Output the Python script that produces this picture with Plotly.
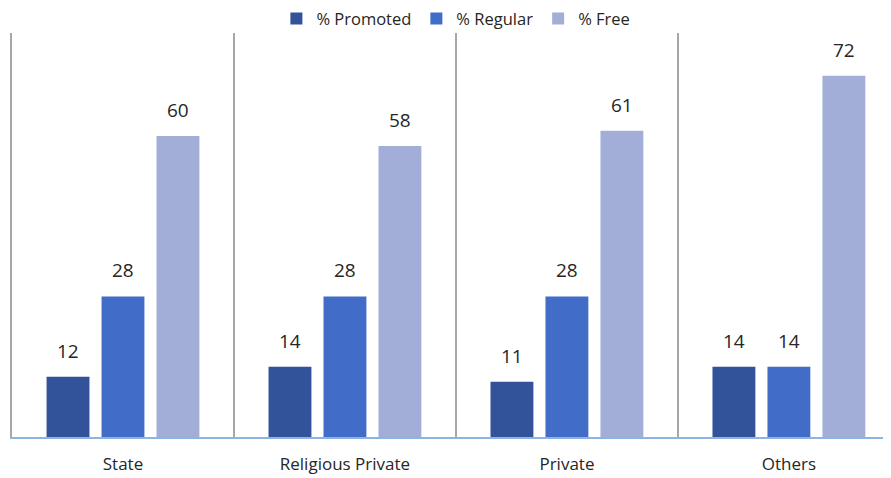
import plotly.graph_objects as go

categories = ["State", "Religious Private", "Private", "Others"]
series_names = ["% Promoted", "% Regular", "% Free"]
promoted = [12, 14, 11, 14]
regular = [28, 28, 28, 14]
free = [60, 58, 61, 72]

values = [promoted, regular, free]
colors = ["#32529A", "#416CC8", "#A3AED8"]
font_family = "'Open Sans', Lato, sans-serif"

fig = go.Figure()
for name, vals, col in zip(series_names, values, colors):
    fig.add_trace(go.Bar(
        x=categories, y=vals, name=name,
        marker=dict(color=col, line=dict(width=0)),
    ))

# data labels above bars
bargap = 0.257
slot_px = 222 * (1 - bargap) / 3
for i, vals in enumerate(values):
    for c, v in zip(categories, vals):
        fig.add_annotation(
            x=c, y=v, text=str(v), showarrow=False,
            xshift=(i - 1) * slot_px, yshift=11, yanchor="bottom",
            font=dict(family=font_family, size=19, color="#262626"),
        )

# page body has an 8px margin, so the figure is sized to fill the rest
fig.update_layout(
    width=883, height=470,
    margin=dict(l=4, r=0, t=25, b=41, autoexpand=False),
    paper_bgcolor="white", plot_bgcolor="white",
    barmode="group", bargap=bargap, bargroupgap=0.22,
    showlegend=True,
    legend=dict(
        orientation="h", x=0.505, xanchor="center", y=1.035, yanchor="middle",
        font=dict(family=font_family, size=16.5, color="#262626"),
        itemwidth=30, traceorder="normal",
        bgcolor="rgba(0,0,0,0)",
    ),
    xaxis=dict(
        range=[-0.5, 3.46], tickson="boundaries", ticks="",
        showgrid=True, gridcolor="#A6A6A6", gridwidth=1.5,
        showline=True, linecolor="#8DB3E2", linewidth=2,
        tickfont=dict(family=font_family, size=17, color="#262626"),
        ticklabelstandoff=11, fixedrange=True, automargin=False,
    ),
    yaxis=dict(
        range=[0, 80.5], showticklabels=False, ticks="", showgrid=False,
        zeroline=False, showline=True, linecolor="#A6A6A6", linewidth=1.5,
        automargin=False,
    ),
)

fig.write_html("out.html")
